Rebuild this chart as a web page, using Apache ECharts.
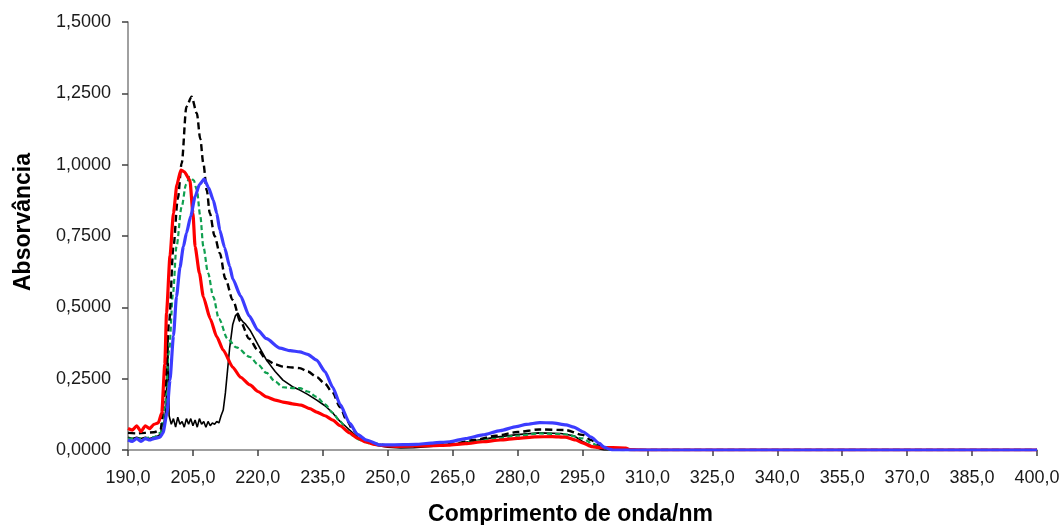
<!DOCTYPE html>
<html>
<head>
<meta charset="utf-8">
<script src="https://cdn.jsdelivr.net/npm/echarts@6/dist/echarts.min.js"></script>
<style>
  html, body { margin: 0; padding: 0; background: #fff; }
  #chart { width: 1062px; height: 525px; }
</style>
</head>
<body>
<div id="chart"></div>
<script>
// UV absorption spectra: wavelength (nm) and absorbance for each sample
var xTicks = { min: 190, max: 400, step: 15 };
var yTicks = { min: 0, max: 1.5, step: 0.25 };

var blackSolidNm  = [190,191,192,193,194,195,196,197,198,198.8,199.2,199.5,200,200.5,201,201.5,202,202.5,203,203.5,204,204.5,205,205.5,206,206.5,207,207.5,208,208.5,209,209.5,210,210.5,211,211.5,212,212.5,213,213.5,214.2,214.8,215.4,216,216.5,217.2,218.2,220,222,224,225.8,228,229.7,231.5,233.6,235.5,237.3,239,241.2,243,245.1,247,250,253,256,260,265,270,275,280,285,290,293,295,297,299,300,400];
var blackSolidAbs = [0.045,0.04,0.045,0.04,0.045,0.04,0.045,0.05,0.06,0.15,0.38,0.12,0.09,0.11,0.08,0.115,0.09,0.1,0.08,0.11,0.09,0.11,0.085,0.105,0.08,0.11,0.09,0.1,0.08,0.1,0.085,0.095,0.09,0.1,0.095,0.12,0.14,0.2,0.28,0.36,0.44,0.47,0.48,0.46,0.45,0.44,0.42,0.37,0.315,0.275,0.245,0.222,0.21,0.195,0.175,0.155,0.13,0.1,0.07,0.045,0.028,0.018,0.01,0.007,0.008,0.012,0.02,0.032,0.045,0.054,0.06,0.058,0.05,0.03,0.015,0.004,0,0];

var greenNm  = [190,193,196,197.5,198.5,199.5,200.4,201.2,202.4,203.4,204.3,205.2,205.9,206.7,207.4,208.5,209.7,211,213,215,218.2,220,222,224,225.8,228,229.7,231.5,233.6,235.5,237.3,239,240.5,242,243.5,246,250,255,260,265,270,275,280,285,291,295,297,299,301,303,400];
var greenAbs = [0.04,0.04,0.045,0.06,0.15,0.35,0.55,0.713,0.853,0.93,0.957,0.945,0.911,0.82,0.713,0.62,0.537,0.46,0.39,0.36,0.326,0.3,0.27,0.24,0.22,0.217,0.217,0.205,0.186,0.16,0.13,0.1,0.07,0.05,0.035,0.022,0.016,0.015,0.017,0.02,0.03,0.04,0.05,0.058,0.055,0.041,0.025,0.01,0.002,0,0];

var blackDashNm  = [190,192,194,196,197.5,198.5,199.5,200.5,201.5,202.4,203.5,204.7,205.9,206.7,207.4,208.2,208.9,210,211.2,212.5,214.2,216,218,220,222.1,224,226,228,229.7,231.5,233.6,235.5,237.3,239,240.5,242,243.5,245,247,250,255,260,265,270,275,280,285,291,295,297,298.5,300,302,305,400];
var blackDashAbs = [0.06,0.058,0.06,0.062,0.07,0.2,0.45,0.713,0.88,1.005,1.203,1.238,1.18,1.09,1.005,0.91,0.83,0.75,0.69,0.6,0.526,0.45,0.39,0.35,0.315,0.3,0.292,0.289,0.287,0.275,0.256,0.232,0.2,0.15,0.105,0.07,0.046,0.032,0.022,0.016,0.015,0.017,0.022,0.035,0.05,0.063,0.072,0.07,0.053,0.035,0.02,0.008,0.002,0,0];

var redNm  = [190,191,192,193,194,195,196,197,197.8,198.5,198.9,199.7,200.5,201.3,202.2,203,204.3,205,205.5,206.5,207.4,209,210.5,212,214.2,216,218.2,220,222,224,225.8,228,230,232,233.6,235.5,237.3,239,241.2,243,245,247,249,252,256,260,264,268,272,276,280,284,288,291,293.4,295,297.2,299,302,305,306,310,400];
var redAbs = [0.075,0.07,0.085,0.065,0.085,0.075,0.09,0.095,0.13,0.3,0.48,0.68,0.83,0.93,0.981,0.975,0.946,0.83,0.713,0.62,0.537,0.46,0.397,0.35,0.29,0.255,0.228,0.205,0.186,0.175,0.168,0.162,0.157,0.145,0.133,0.12,0.105,0.085,0.06,0.042,0.028,0.02,0.015,0.013,0.014,0.015,0.017,0.022,0.029,0.035,0.041,0.046,0.047,0.045,0.035,0.025,0.012,0.008,0.008,0.007,0.001,0,0];

var blueNm  = [190,191,192,193,194,195,196,197.4,198.1,199,199.7,200.5,201.2,202,202.8,203.5,204.5,205.5,206.5,207.6,208.6,209.7,210.5,211.2,212.3,213.5,214.2,216,218,220,222,225.1,227.5,229.7,231.5,233.6,235.5,237.3,239,241.2,243,245.1,248.2,250.5,256.6,260,264.3,268,272,276,279.7,282,285.1,288,291.2,293,295.1,297,298.9,300,301.2,302,400];
var blueAbs = [0.035,0.03,0.04,0.03,0.04,0.035,0.04,0.045,0.06,0.13,0.245,0.4,0.537,0.64,0.713,0.76,0.82,0.888,0.93,0.949,0.92,0.876,0.83,0.771,0.71,0.643,0.6,0.54,0.47,0.42,0.39,0.357,0.348,0.344,0.335,0.315,0.275,0.22,0.16,0.094,0.055,0.035,0.018,0.018,0.02,0.024,0.029,0.04,0.053,0.068,0.082,0.09,0.096,0.095,0.088,0.08,0.064,0.045,0.023,0.01,0.003,0,0];

function pairs(xs, ys) {
  return xs.map(function (x, i) { return [x, ys[i]]; });
}

var textColor = '#1a1a1a';
var fontFamily = 'Liberation Sans, Arial, sans-serif';

var chart = echarts.init(document.getElementById('chart'), null, { renderer: 'canvas' });

chart.setOption({
  backgroundColor: '#ffffff',
  animation: false,
  grid: { left: 128, right: 25, top: 22, bottom: 75, containLabel: false, outerBoundsMode: 'none' },
  xAxis: {
    type: 'value',
    min: xTicks.min,
    max: xTicks.max,
    interval: xTicks.step,
    name: 'Comprimento de onda/nm',
    nameLocation: 'middle',
    nameGap: 53,
    nameTextStyle: { fontFamily: fontFamily, fontWeight: 'bold', fontSize: 23, color: '#000', padding: [0, 24, 0, 0] },
    axisLine: { lineStyle: { color: '#808080', width: 1.5 } },
    axisTick: { show: true, inside: false, length: 6, lineStyle: { color: '#404040', width: 1.5 } },
    axisLabel: {
      fontFamily: fontFamily, fontSize: 18, color: textColor, margin: 19,
      formatter: function (v) { return v.toFixed(1).replace('.', ','); }
    },
    splitLine: { show: false }
  },
  yAxis: {
    type: 'value',
    min: yTicks.min,
    max: yTicks.max,
    interval: yTicks.step,
    name: 'Absorvância',
    nameLocation: 'middle',
    nameGap: 93,
    nameRotate: 90,
    nameTextStyle: { fontFamily: fontFamily, fontWeight: 'bold', fontSize: 23, color: '#000', padding: [0, 0, 0, 28] },
    axisLine: { show: true, lineStyle: { color: '#808080', width: 1.5 } },
    axisTick: { show: true, inside: false, length: 6, lineStyle: { color: '#404040', width: 1.5 } },
    axisLabel: {
      fontFamily: fontFamily, fontSize: 18, color: textColor, margin: 17,
      formatter: function (v) { return v.toFixed(4).replace('.', ','); }
    },
    splitLine: { show: false }
  },
  series: [
    {
      name: 'A', type: 'line', data: pairs(blackSolidNm, blackSolidAbs),
      showSymbol: false, smooth: false,
      lineStyle: { color: '#000000', width: 1.6 }
    },
    {
      name: 'B', type: 'line', data: pairs(greenNm, greenAbs),
      showSymbol: false, smooth: 0.3, smoothMonotone: 'x',
      lineStyle: { color: '#10A050', width: 2.2, type: [5, 3] }
    },
    {
      name: 'C', type: 'line', data: pairs(blackDashNm, blackDashAbs),
      showSymbol: false, smooth: 0.3, smoothMonotone: 'x',
      lineStyle: { color: '#000000', width: 2.4, type: [7, 4] }
    },
    {
      name: 'D', type: 'line', data: pairs(redNm, redAbs),
      showSymbol: false, smooth: 0.2, smoothMonotone: 'x',
      lineStyle: { color: '#FF0000', width: 3.2 }
    },
    {
      name: 'E', type: 'line', data: pairs(blueNm, blueAbs),
      showSymbol: false, smooth: 0.2, smoothMonotone: 'x',
      lineStyle: { color: '#3C3CFF', width: 3.2 }
    }
  ]
});
</script>
</body>
</html>
